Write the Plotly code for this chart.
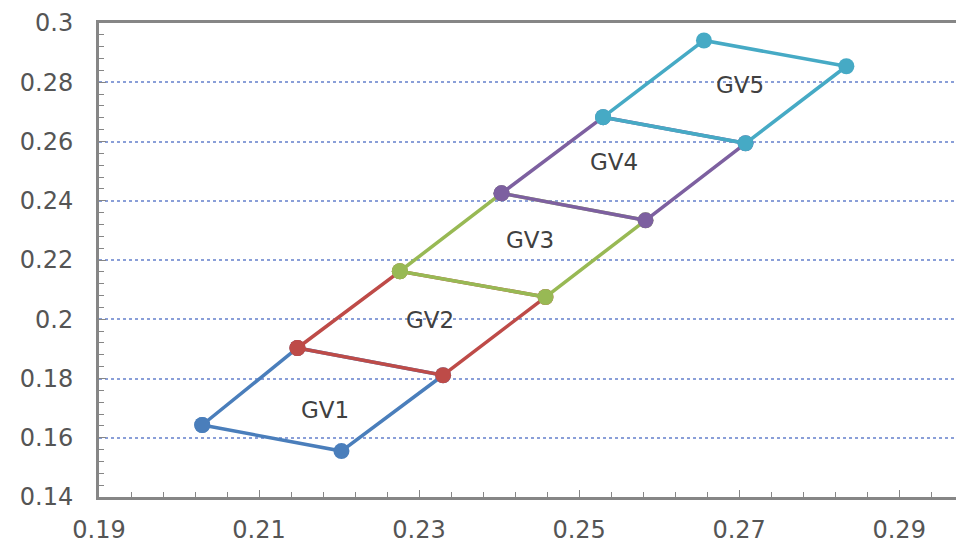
import plotly.graph_objects as go

# Data: each GV is a quadrilateral (left, bottom, right, top)
names = ["GV1", "GV2", "GV3", "GV4", "GV5"]
gv1_x = [0.2029, 0.2203, 0.2330, 0.2148]
gv1_y = [0.1643, 0.1555, 0.1811, 0.1903]
gv2_x = [0.2148, 0.2330, 0.2458, 0.2276]
gv2_y = [0.1903, 0.1811, 0.2075, 0.2162]
gv3_x = [0.2276, 0.2458, 0.2583, 0.2403]
gv3_y = [0.2162, 0.2075, 0.2334, 0.2425]
gv4_x = [0.2403, 0.2583, 0.2708, 0.2530]
gv4_y = [0.2425, 0.2334, 0.2594, 0.2682]
gv5_x = [0.2530, 0.2708, 0.2834, 0.2656]
gv5_y = [0.2682, 0.2594, 0.2854, 0.2941]
label_x = [0.2183, 0.2314, 0.2439, 0.2543, 0.2701]
label_y = [0.1693, 0.1997, 0.2267, 0.2530, 0.2790]
x_ticks = [0.19, 0.21, 0.23, 0.25, 0.27, 0.29]
y_ticks = [0.14, 0.16, 0.18, 0.20, 0.22, 0.24, 0.26, 0.28, 0.30]
y_tick_text = ["0.14", "0.16", "0.18", "0.2", "0.22", "0.24", "0.26", "0.28", "0.3"]

colors = ["#4A7EBB", "#BE4B48", "#98B954", "#7D60A0", "#46AAC5"]
series = [(gv1_x, gv1_y), (gv2_x, gv2_y), (gv3_x, gv3_y), (gv4_x, gv4_y), (gv5_x, gv5_y)]

fig = go.Figure()
for name, (xs, ys), c in zip(names, series, colors):
    fig.add_trace(go.Scatter(
        x=xs + [xs[0]], y=ys + [ys[0]], mode="lines+markers", name=name,
        line=dict(color=c, width=3.5),
        marker=dict(size=16, color=c),
        showlegend=False,
    ))

for name, lx, ly in zip(names, label_x, label_y):
    fig.add_annotation(x=lx, y=ly, text=name, showarrow=False,
                       font=dict(family="DejaVu Sans", size=23, color="#404040"))

axis_font = dict(family="DejaVu Sans", size=24, color="#555555")
fig.update_xaxes(
    range=[0.19, 0.2981], tickvals=x_ticks, ticktext=[f"{v:.2f}" for v in x_ticks],
    showgrid=False, zeroline=False, showline=True, linecolor="#868686", linewidth=3,
    mirror=True, ticks="inside", ticklen=7, tickcolor="#868686", tickwidth=1,
    minor=dict(dtick=0.004, tick0=0.19, ticks="inside", ticklen=5, tickcolor="#868686", showgrid=False),
    tickfont=axis_font, automargin=False, ticklabelstandoff=9,
)
fig.update_yaxes(
    range=[0.14, 0.30], tickvals=y_ticks, ticktext=y_tick_text,
    showgrid=True, gridcolor="#8A9FD8", griddash="dot", gridwidth=2,
    zeroline=False, showline=True, linecolor="#868686", linewidth=3,
    ticks="inside", ticklen=7, tickcolor="#868686", tickwidth=1,
    minor=dict(dtick=0.004, tick0=0.14, ticks="inside", ticklen=5, tickcolor="#868686", showgrid=False),
    tickfont=axis_font, ticklabelstandoff=18, automargin=False,
)
fig.update_layout(
    width=956, height=543,
    margin=dict(l=91, r=0, t=15, b=54),
    paper_bgcolor="white", plot_bgcolor="white",
)
fig.write_html("out.html")
